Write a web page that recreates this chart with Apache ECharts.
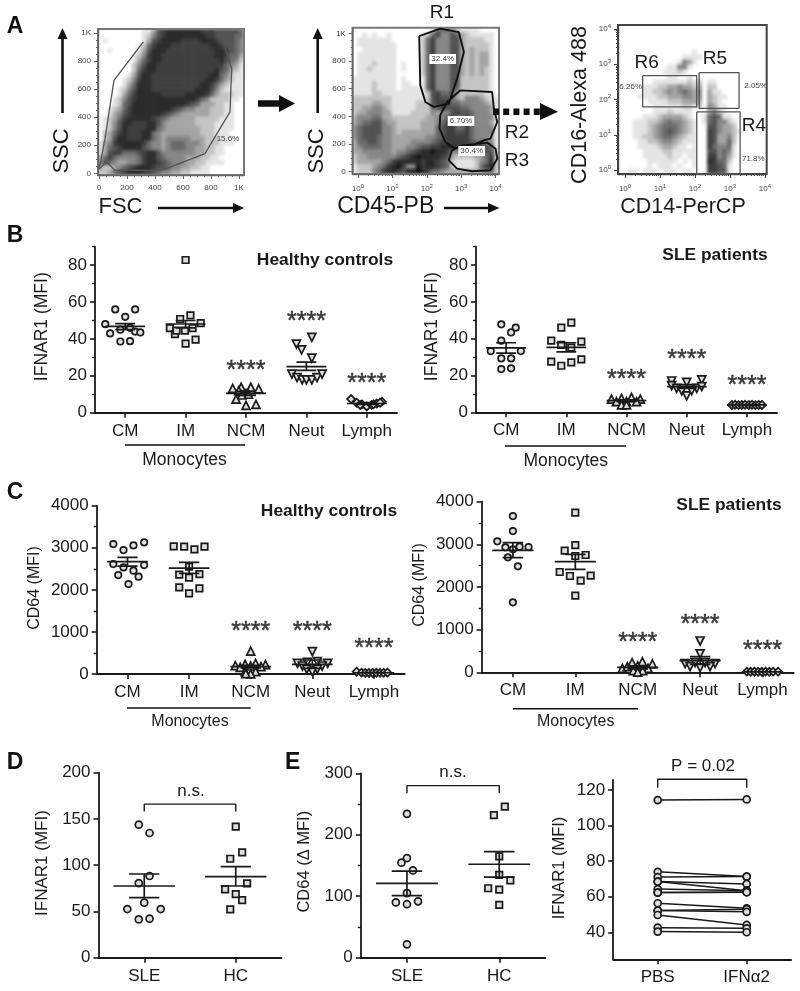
<!DOCTYPE html>
<html><head><meta charset="utf-8"><style>html,body{margin:0;padding:0;background:#fff}
#wrap{position:absolute;left:0;top:0;width:800px;height:991px;clip-path:path('M98 29h146v146h-146z M352.7 27.7h146.3v146.3h-146.3z M618 25h148.7v149h-148.7z')}
#u{position:absolute;left:0;top:0;width:800px;height:991px;filter:blur(1.7px)}
#c{position:absolute;left:0;top:0;width:800px;height:991px}</style>
<script src="https://cdn.jsdelivr.net/npm/echarts@6/dist/echarts.min.js"></script></head><body><div id="wrap"><div id="u"></div></div><div id="c"></div>
<script>
const FONT='"Liberation Sans",Arial,sans-serif', INK='#1a1a1a';
const stripCats=['CM','IM','NCM','Neut','Lymph'];
const stripSymbols=[['circle',0,6.5],['rect',0,6.5],['triangle',0,8],['triangle',180,8],['diamond',0,8]];

// Panel A: hand-read darkness per cell (0 white .. 9 near black), 30 x 30
const fscDensity=[
'000000000113678888888777666665','000000000124678888888877666655','010000000136788887777888766654',
'000000001257888777777778876654','001000001368887777777777887654','000000012478877777777777887553',
'000000013578877777777777786542','000000024688777777777777775431','000000025788777777777777865321',
'000000136887777777777778854211','000001247887777777777788753211','000001358887777777777887532111',
'000012468887777777778886421111','000013578888877777888875322211','000124678888888888887542222110',
'000125688888888888765333221100','001235788888888765443332221100','001346788888876543333332221100',
'012357888887654333332222211100','012468877788643333332222111100','012468777788543333333222111100',
'023578777885433333333222111000','023688777885434444433322211100','134788888754434555444322211100',
'135678888654434555443322110000','136775556788644444443322110000','357544445788654444333221100000',
'465433445788765444332211110000','322345678887665443322110000000','223567888776544332211110000000'];
const cd45Density=[
'000000000000000015554211110000','001010010000001257446532111110','011111110000002574446632222110',
'011111111000002574446632222210','001111111000002574446632322210','011111111000002574446632323310',
'011111111000002574446632323310','011121111010002574446632323310','011211111010002574446632323210',
'011111111000002574446632323210','111111111010001574446622222210','111121111011001574446622222210',
'111121111011111574446522222210','111122111111111267556322222110','222222221111111267665324443211',
'222233221111122267775544444321','223344321111122256766655444431','233444331111222243446766544431',
'344455332222222334467557544441','345566433222223334577557544431','456666443222223335677557544441',
'456666443233333335677667544441','456665443333333445677777544431','355665443333444456777777655441',
'345555443334456677888777777651','334444443445678898874444445662','233444444567898888763222233572',
'233333457888887887652111124582','122234578974497887652111125782','122245788768898755433333334552'];
const cd14Density=[
'000000000000000000000000000000','000000000000000000000000000000','000000000000000000000000000000',
'000000000000000000000000000000','000000000000000000000000000000','000000000000000100000000000000',
'000000000000011110000000000000','000000000000143100000000000000','000000000011441000000000000000',
'000000000111210000000000000000','000000000011001000000000000000','000000011111112120110000000000',
'000001112233433230220000000000','000001122343454340311000000000','000011112233344340321100000000',
'000000111122233330321000000000','000000011111122120431100000000','000000011121111000342100000000',
'000001112333321001565110000000','000111223454432101564421000000','000111234555432100664332000000',
'000111234565432100764332100000','000112234554321100763342000000','000011223443211100763352000000',
'000011112332110100754451000000','000001111221111100664541000000','000001111121101100774531000000',
'000000111111010100875520000000','000000101110100100776510000000','001101110111011000776610000000'];
const fscGate=[[888,938],[948,747],[936,438],[757,140],[448,21],[114,21],[55,81],[2,33],[43,247],[107,664],[317,938]];
const r1Gate=[[1.78,980],[2.39,1034],[2.93,1009],[3.08,865],[2.88,672],[2.64,492],[2.20,468],[1.96,504],[1.81,624],[1.78,980]];
const r2Gate=[[2.98,588],[3.90,576],[3.95,455],[4.05,359],[3.85,239],[3.66,227],[3.27,186],[2.78,171],[2.54,215],[2.37,311],[2.39,407],[2.59,504],[2.98,588]];
const r3Gate=[[2.98,186],[3.76,210],[4.0,166],[4.05,94],[3.85,10],[3.32,3],[2.88,22],[2.64,82],[2.73,154],[2.98,186]];
const r6Gate=[[0.505,2.675],[2.05,2.675],[2.05,1.79],[0.505,1.79],[0.505,2.675]];
const r5Gate=[[2.12,2.76],[3.26,2.76],[3.26,1.75],[2.12,1.75],[2.12,2.76]];
const r4Gate=[[2.05,1.65],[3.29,1.65],[3.29,-0.11],[2.05,-0.11],[2.05,1.65]];
const linTicks=[0,200,400,600,800,1000], logTicks=[0,1,2,3,4];

// Panel B, healthy controls: [offset from category, value]
const bhCM=[[-.165,56],[.165,56],[0,52],[-.33,48],[-.25,43],[-.08,45],[.08,46],[.165,44],[.25,43.5],[-.08,38.6],[.08,38.8]];
const bhIM=[[0,82.8],[.08,52.8],[-.09,50.8],[.25,48.6],[-.26,45.9],[.116,45.9],[-.176,42.6],[-.15,44.5],[-.01,44.5],[.165,39.6],[0,37.4]];
const bhNCM=[[-.08,13.8],[.08,13.8],[-.22,13.2],[.21,12.9],[-.12,12],[0,10.5],[.04,10],[-.07,9.6],[-.165,7.4],[0,4],[.165,4.5]];
const bhNeut=[[.09,40.8],[-.165,37.2],[-.08,34.1],[.09,29.6],[-.24,20.9],[-.155,19],[-.07,17.8],[0,17.8],[.09,17.8],[.176,19],[.26,20.9]];
const bhLymph=[[-.26,7.4],[-.165,5.4],[-.08,4.5],[0,3.4],[.08,4.2],[.165,5],[.25,6],[-.11,4.2],[.11,4.5],[.22,5.4]];
const bhMean=[46.8,48.1,10.5,25,5], bhHi=[48.3,50,11.6,27.4,5.5], bhLo=[45,46,9.4,22.9,4.5], bhStars=[null,null,25,52,18];
// Panel B, SLE patients
const bsCM=[[-.08,47.8],[.16,46],[.083,43.4],[-.08,38.9],[-.255,33.3],[.245,33.3],[-.08,29.3],[.083,29.3],[-.08,23.5],[.083,23.9]];
const bsIM=[[.083,48.7],[-.083,46],[-.25,38.9],[.25,38.4],[-.083,36.6],[.083,35.1],[-.25,27.5],[.25,28.8],[.083,27.1],[-.083,25.3]];
const bsNCM=[[-.25,7.2],[-.083,7.6],[.083,8.1],[.23,7.2],[-.167,5.8],[0,5.8],[.167,5.8],[-.083,4],[0,4]];
const bsNeut=[[-.25,17],[0,16.3],[.25,17.6],[-.25,14.5],[-.167,13],[-.083,11.6],[0,8.9],[.083,11.8],[.167,13],[.25,13.9]];
const bsLymph=[[-.25,4],[-.195,4.1],[-.14,3.9],[-.085,4],[-.03,4.1],[.03,4],[.085,4.1],[.14,3.9],[.195,4],[.25,4]];
const bsMean=[35,35.3,6.3,14,4], bsHi=[37.8,37.8,6.8,15,4.2], bsLo=[32.2,32.8,5.8,13,3.8], bsStars=[null,null,20,31,17];
// Panel C, healthy controls
const chCM=[[-.23,3089],[.097,3057],[.27,3128],[-.065,2946],[-.23,2614],[.27,2590],[-.065,2534],[.097,2455],[-.15,2352],[.18,2313],[.016,2138]];
const chIM=[[-.25,3033],[-.08,3025],[.086,2962],[.25,3025],[0,2550],[-.16,2360],[.167,2376],[0,2289],[-.16,2059],[.167,2035],[0,1917]];
const chNCM=[[0,546],[-.25,198],[-.09,230],[.08,253],[.24,222],[-.17,158],[0,190],[.167,174],[-.09,55],[.08,55],[0,5],[-.08,10]];
const chNeut=[[0,531],[-.24,253],[-.08,277],[.08,293],[.25,253],[-.16,190],[.16,190],[-.09,111],[.08,111],[0,55]];
const chLymph=[[-.28,55],[-.2,32],[-.14,25],[-.08,25],[-.02,25],[.04,28],[.1,28],[.16,30],[.22,32]];
const chMean=[2669,2518,174,230,30], chHi=[2772,2653,204,333,35], chLo=[2566,2392,144,135,25], chStars=[null,null,1117,1117,713];
// Panel C, SLE patients
const csCM=[[0,3664],[0,3312],[-.25,3070],[.25,2937],[-.12,2930],[.107,2945],[0,2883],[-.08,2695],[.08,2484],[0,1640]];
const csIM=[[0,3742],[0,2984],[-.17,2852],[.166,2750],[0,2727],[-.25,2352],[-.086,2258],[.246,2266],[.086,2148],[0,1797]];
const csNCM=[[-.09,227],[.075,250],[.235,195],[-.246,94],[-.166,133],[0,148],[.166,94],[-.07,39],[.08,39],[0,5]];
const csNeut=[[0,734],[0,430],[-.24,203],[-.08,227],[.08,227],[.24,203],[-.16,133],[.16,133],[0,109]];
const csLymph=[[-.25,15],[-.19,12],[-.13,14],[-.07,10],[-.01,12],[.05,15],[.11,12],[.17,15],[.25,15]];
const csMean=[2859,2594,117,273,10], csHi=[3039,2766,152,367,12], csLo=[2687,2414,82,187,8], csStars=[null,null,797,1219,625];
// Panels D, E, right-hand pairs
const dCats=['SLE','HC'];
const dSLE=[[-.06,143.8],[.058,134.8],[.058,88.3],[-.06,80.7],[0,59.5],[-.185,52.6],[.18,52.6],[-.06,41.4],[.058,42.2]];
const dHC=[[0,141.6],[.07,113.9],[-.06,107],[.124,80.4],[-.116,73.9],[0,68.8],[.07,62.3],[-.06,52.3]];
const dMean=[77.5,87.6], dHi=[90.5,98.4], dLo=[64.9,77.5];
const eSLE=[[0,234],[0,162],[-.06,154.6],[.065,142],[0,105],[-.12,90],[0,87],[.12,91.7],[0,21.7]];
const eHC=[[.06,245.8],[-.058,232],[0,165],[0,134.6],[.12,125.9],[-.12,113],[0,110.7],[0,86]];
const eMean=[121,152], eHi=[141,172.5], eLo=[101,131];
const pairCats=['PBS','IFNα2'];
const pairPBS=[114.3,74,71,68.5,68.5,64.3,62.3,62.3,56.3,52.2,52.2,49.7,42.6,40.4];
const pairIFN=[114.7,71.3,71.3,67.2,63.4,63.4,62.5,62.5,53.5,53,51.5,44.1,42.2,40];

const grid=[],xAxis=[],yAxis=[],series=[],graphic=[];
const gridU=[],xU=[],yU=[],seriesU=[];
function T(text,x,y,size,o={}){graphic.push({type:'text',x,y,z:100,rotation:o.rot?Math.PI/2:0,silent:true,style:Object.assign({text,x:0,y:0,align:'center',verticalAlign:'middle',fontSize:size,fontFamily:FONT,fontWeight:o.bold?'bold':'normal',fill:o.fill||INK},o.style||{})});}
function L(x1,y1,x2,y2,w,o={}){graphic.push({type:'line',z:100,silent:true,shape:{x1,y1,x2,y2},style:{stroke:'#111',lineWidth:w,lineDash:o.dash}});}
function P(pts){graphic.push({type:'polygon',z:100,silent:true,shape:{points:pts},style:{fill:'#111'}});}

function axes(box,xr,yr,o){
  const gi=grid.length;
  grid.push({left:box[0],top:box[1],width:box[2],height:box[3],containLabel:false,show:!!o.border,borderColor:o.border||'#888',borderWidth:2,backgroundColor:'transparent'});
  const lineCol=o.lineCol||INK,lw=o.lw||1.8,fs=o.fs||17,col=o.labCol||INK;
  const base=(min,max,pos)=>({type:'value',gridIndex:gi,min,max,position:pos,splitLine:{show:false},splitArea:{show:false}});
  const xi=xAxis.length,yi=yAxis.length;
  xAxis.push(Object.assign(base(xr[0],xr[1],'bottom'),{axisLine:{show:true,onZero:false,lineStyle:{color:lineCol,width:lw}},
    axisTick:{show:true,customValues:o.xt,length:o.xtl||5,lineStyle:{color:lineCol,width:o.tw||1.6}},
    axisLabel:{show:true,customValues:o.xt,margin:o.xm||10,fontSize:o.xfs||fs,color:col,fontFamily:FONT,formatter:o.xf,rich:o.rich,hideOverlap:false,showMinLabel:true,showMaxLabel:true}}));
  yAxis.push(Object.assign(base(yr[0],yr[1],'left'),{axisLine:{show:true,onZero:false,lineStyle:{color:lineCol,width:lw}},
    axisTick:{show:true,customValues:o.yt,length:o.ytl||5,lineStyle:{color:lineCol,width:o.tw||1.6}},
    axisLabel:{show:true,customValues:o.yt,margin:o.ym||8,fontSize:fs,color:col,fontFamily:FONT,formatter:o.yf,rich:o.rich,hideOverlap:false,showMinLabel:true,showMaxLabel:true}}));
  if(o.yMinor){yAxis.push(Object.assign(base(yr[0],yr[1],'left'),{axisLine:{show:false,onZero:false},axisLabel:{show:false},axisTick:{show:true,customValues:o.yMinor,length:o.minorLen||3,lineStyle:{color:lineCol,width:o.tw||1.4}}}));}
  if(o.xMinor){xAxis.push(Object.assign(base(xr[0],xr[1],'bottom'),{axisLine:{show:false,onZero:false},axisLabel:{show:false},axisTick:{show:true,customValues:o.xMinor,length:o.minorLen||3,lineStyle:{color:lineCol,width:o.tw||1.4}}}));}
  return [xi,yi];
}
function segs(list,ax,style){
  const data=[];list.forEach((s,i)=>{if(i)data.push(['-','-']);s.forEach(p=>data.push(p));});
  series.push({type:'line',xAxisIndex:ax[0],yAxisIndex:ax[1],data,showSymbol:false,symbol:'none',silent:true,animation:false,clip:false,connectNulls:false,z:5,lineStyle:style});
}
function points(data,ax,sym){
  series.push({type:'scatter',xAxisIndex:ax[0],yAxisIndex:ax[1],data,symbol:sym[0],symbolRotate:sym[1],symbolSize:sym[2],silent:true,animation:false,clip:false,z:3,itemStyle:{color:'#dedede',borderColor:INK,borderWidth:1.7,opacity:1}});
}
function errs(means,hi,lo,ax,mw,cw){
  const list=[];means.forEach((m,i)=>{list.push([[i-mw,m],[i+mw,m]],[[i-cw,hi[i]],[i+cw,hi[i]]],[[i-cw,lo[i]],[i+cw,lo[i]]],[[i,hi[i]],[i,lo[i]]]);});
  segs(list,ax,{color:INK,width:1.7});
}
function stars(vals,ax){
  const data=vals.map((v,i)=>[i,v]).filter(d=>d[1]!==null);
  series.push({type:'scatter',xAxisIndex:ax[0],yAxisIndex:ax[1],data,symbol:'circle',symbolSize:1,silent:true,animation:false,clip:false,z:4,itemStyle:{color:'rgba(0,0,0,0)'},
    label:{show:true,position:'inside',formatter:'****',fontSize:25,fontFamily:FONT,color:'#111',textBorderColor:'#111',textBorderWidth:0.5,offset:[0,5]}});
}
function strip(box,yr,yt,minor,groups,mean,hi,lo,st){
  const ax=axes(box,[-.5,4.5],yr,{xt:[0,1,2,3,4],xf:v=>stripCats[v],yt,yMinor:minor,yf:v=>String(v)});
  groups.forEach((g,i)=>points(g.map(p=>[i+p[0],p[1]]),ax,stripSymbols[i]));
  errs(mean,hi,lo,ax,.33,.165);stars(st,ax);
}
function two(box,yr,yt,minor,groups,mean,hi,lo,br){
  const ax=axes(box,[-.5,1.5],yr,{xt:[0,1],xf:v=>dCats[v],yt,yMinor:minor,yf:v=>String(v)});
  groups.forEach((g,i)=>points(g.map(p=>[i+p[0],p[1]]),ax,[stripSymbols[i][0],0,i?6.5:7]));
  errs(mean,hi,lo,ax,.335,.165);
  segs([[[0,br[1]],[0,br[0]],[1,br[0]],[1,br[1]]]],ax,{color:INK,width:1.4});
}

strip([95,246.7,302,166],[0,90],[0,20,40,60,80],[10,30,50,70,90],[bhCM,bhIM,bhNCM,bhNeut,bhLymph],bhMean,bhHi,bhLo,bhStars);
strip([476,246.7,301,165.6],[0,90],[0,20,40,60,80],[10,30,50,70,90],[bsCM,bsIM,bsNCM,bsNeut,bsLymph],bsMean,bsHi,bsLo,bsStars);
strip([96.7,505.7,308,168.3],[0,4000],[0,1000,2000,3000,4000],[500,1500,2500,3500],[chCM,chIM,chNCM,chNeut,chLymph],chMean,chHi,chLo,chStars);
strip([481.7,501.7,312,170.6],[0,4000],[0,1000,2000,3000,4000],[500,1500,2500,3500],[csCM,csIM,csNCM,csNeut,csLymph],csMean,csHi,csLo,csStars);
two([98.5,772.7,183,185],[0,200],[0,50,100,150,200],null,[dSLE,dHC],dMean,dHi,dLo,[166,158]);
two([360.8,773.3,184.6,184.4],[0,300],[0,100,200,300],[50,150,250],[eSLE,eHC],eMean,eHi,eLo,[280,267.5]);
{
  const ax=axes([613.2,780,178,179.3],[-.5,1.5],[24.8,125.6],{xt:[0,1],xf:v=>pairCats[v],yt:[40,60,80,100,120],yf:v=>String(v)});
  pairPBS.forEach((v,i)=>{
    const data=[[0,v],[1,pairIFN[i]]];
    series.push({type:'line',xAxisIndex:ax[0],yAxisIndex:ax[1],data,symbol:'circle',symbolSize:7,showSymbol:true,showAllSymbol:true,silent:true,animation:false,z:3,lineStyle:{color:INK,width:1.5},itemStyle:{color:'#dedede',borderColor:INK,borderWidth:1.7}});
  });
  segs([[[0,121.3],[0,126],[1,126],[1,121.3]]],ax,{color:INK,width:1.4});
}

// Panel A
function heat(box,rows){
  const g=gridU.length,idx=[...Array(30).keys()];
  gridU.push({left:box[0],top:box[1],width:box[2],height:box[3]});
  xU.push({type:'category',gridIndex:g,data:idx,show:false});
  yU.push({type:'category',gridIndex:g,data:idx,inverse:true,show:false});
  const data=[];rows.forEach((r,y)=>[...r].forEach((c,x)=>{data.push([x,y,+c]);}));
  seriesU.push({type:'heatmap',xAxisIndex:g,yAxisIndex:g,data,silent:true,animation:false,progressive:0});
}
const linMinor=[],logMinor=[];
for(let v=50;v<1000;v+=50)if(v%200)linMinor.push(v);
for(let d=0;d<4;d++)for(let k=2;k<10;k++)logMinor.push(d+Math.log10(k));
const fl={fs:8,labCol:'#444',lineCol:'#666',lw:1.4,tw:1,border:'#777',ytl:4,xtl:4,minorLen:2,ym:7,xm:9};
const linF=v=>v===1000?'1K':String(v);
const logRich={b:{fontSize:8,color:'#444',fontFamily:FONT},s:{fontSize:6,color:'#444',fontFamily:FONT,padding:[0,0,6,0]}};
const logF=v=>`{b|10}{s|${v}}`;

heat([98,29,146,146],fscDensity);
const a1=axes([98,29,146,146],[-7,1036],[-12,1030],Object.assign({},fl,{xt:linTicks,yt:linTicks,xf:linF,yf:linF,xMinor:linMinor,yMinor:linMinor}));
segs([fscGate],a1,{color:'#555',width:1.3});

heat([352.7,27.7,146.3,146.3],cd45Density);
const a2=axes([352.7,27.7,146.3,146.3],[-.155,4.1],[-17,1041],Object.assign({},fl,{xt:logTicks,yt:linTicks,xf:logF,yf:linF,rich:logRich,xMinor:logMinor,yMinor:linMinor}));
segs([r1Gate,r2Gate,r3Gate],a2,{color:'#111',width:1.9});

heat([618,25,148.7,149],cd14Density);
const a3=axes([618,25,148.7,149],[-.2,4.05],[-.11,4.11],Object.assign({},fl,{xt:logTicks,yt:logTicks,xf:logF,yf:logF,rich:logRich,xMinor:logMinor,yMinor:logMinor,border:'#444',lineCol:'#444'}));
segs([r6Gate,r5Gate,r4Gate],a3,{color:'#555',width:1.3});

// Panel letters
[['A',15,27],['B',15,236],['C',15,492.7],['D',15,762.7],['E',292.7,762.7]].forEach(a=>T(a[0],a[1],a[2],23,{bold:true,fill:'#111'}));
// Panel A text and arrows
T('SSC',62,151,22,{rot:1});T('SSC',316.5,151,22,{rot:1});
T('FSC',120.5,207,22);T('CD45-PB',385.7,207,23);T('CD14-PerCP',683,207,21.5);T('CD16-Alexa 488',580,105,21.5,{rot:1});
L(62.5,113,62.5,38,2.6);P([[62.5,28],[57.5,39],[67.5,39]]);
L(317.7,113,317.7,38,2.6);P([[317.7,28],[312.7,39],[322.7,39]]);
L(158,208,234,208,2.6);P([[244,208],[233,203],[233,213]]);
L(444,208,489,208,2.6);P([[499.5,208],[488,203],[488,213]]);
L(258,103.5,280,103.5,6.5);P([[295,103.5],[279,95],[279,112]]);
L(493,111.7,542,111.7,6.5,{dash:[6,4.2]});P([[558,111.7],[540,103],[540,120]]);
[['R1',442,13],['R2',517,133],['R3',517,161],['R6',646.7,63],['R5',715,59],['R4',754,126]].forEach(r=>T(r[0],r[1],r[2],19));
const pctBg={backgroundColor:'#fff',padding:[1,2]};
T('15.6%',228,139,8,{fill:'#444'});T('32.4%',442.7,59,8,{fill:'#444',style:pctBg});T('6.70%',461,121,8,{fill:'#444',style:pctBg});T('30.4%',471.7,151,8,{fill:'#444',style:pctBg});
T('6.26%',630.7,86.7,8,{fill:'#444'});T('2.05%',755.7,86,8,{fill:'#444'});T('71.8%',753.3,158.7,8,{fill:'#444'});
// Panels B-E text
T('IFNAR1 (MFI)',42,326.7,17.5,{rot:1});T('IFNAR1 (MFI)',432,326.7,17.5,{rot:1});
T('CD64 (MFI)',35,588,16,{rot:1});T('CD64 (MFI)',420,585,16,{rot:1});
T('IFNAR1 (MFI)',42,863,17,{rot:1});T('CD64 (Δ MFI)',304,861.7,16.5,{rot:1});T('IFNAR1 (MFI)',559,868,16.5,{rot:1});
T('Healthy controls',325,260,17.4,{bold:1});T('SLE patients',715,255,17.4,{bold:1});T('Healthy controls',329,511.7,17.4,{bold:1});T('SLE patients',729,505,17.4,{bold:1});
L(125,445,245,445,1.4);T('Monocytes',184.5,460,17.5);
L(505,446,626,446,1.4);T('Monocytes',565.7,461,17.5);
L(127,708,250.7,708,1.4);T('Monocytes',190,721.7,16);
L(513,708.7,638,708.7,1.4);T('Monocytes',575.7,722,16);
T('n.s.',191,791.7,17);T('n.s.',453,772.7,17);T('P = 0.02',703,766.7,17);

const under=echarts.init(document.getElementById('u'),null,{renderer:'canvas'});
under.setOption({animation:false,grid:gridU,xAxis:xU,yAxis:yU,series:seriesU,
  visualMap:{type:'continuous',show:false,min:0,max:9,dimension:2,seriesIndex:seriesU.map((s,i)=>i),
    inRange:{color:['#ffffff','#e4e4e4','#c4c4c4','#a4a4a4','#868686','#6a6a6a','#525252','#3e3e3e','#2a2a2a','#141414']}}});
const chart=echarts.init(document.getElementById('c'),null,{renderer:'canvas'});
chart.setOption({animation:false,grid,xAxis,yAxis,series,graphic:{elements:graphic}});
</script></body></html>
